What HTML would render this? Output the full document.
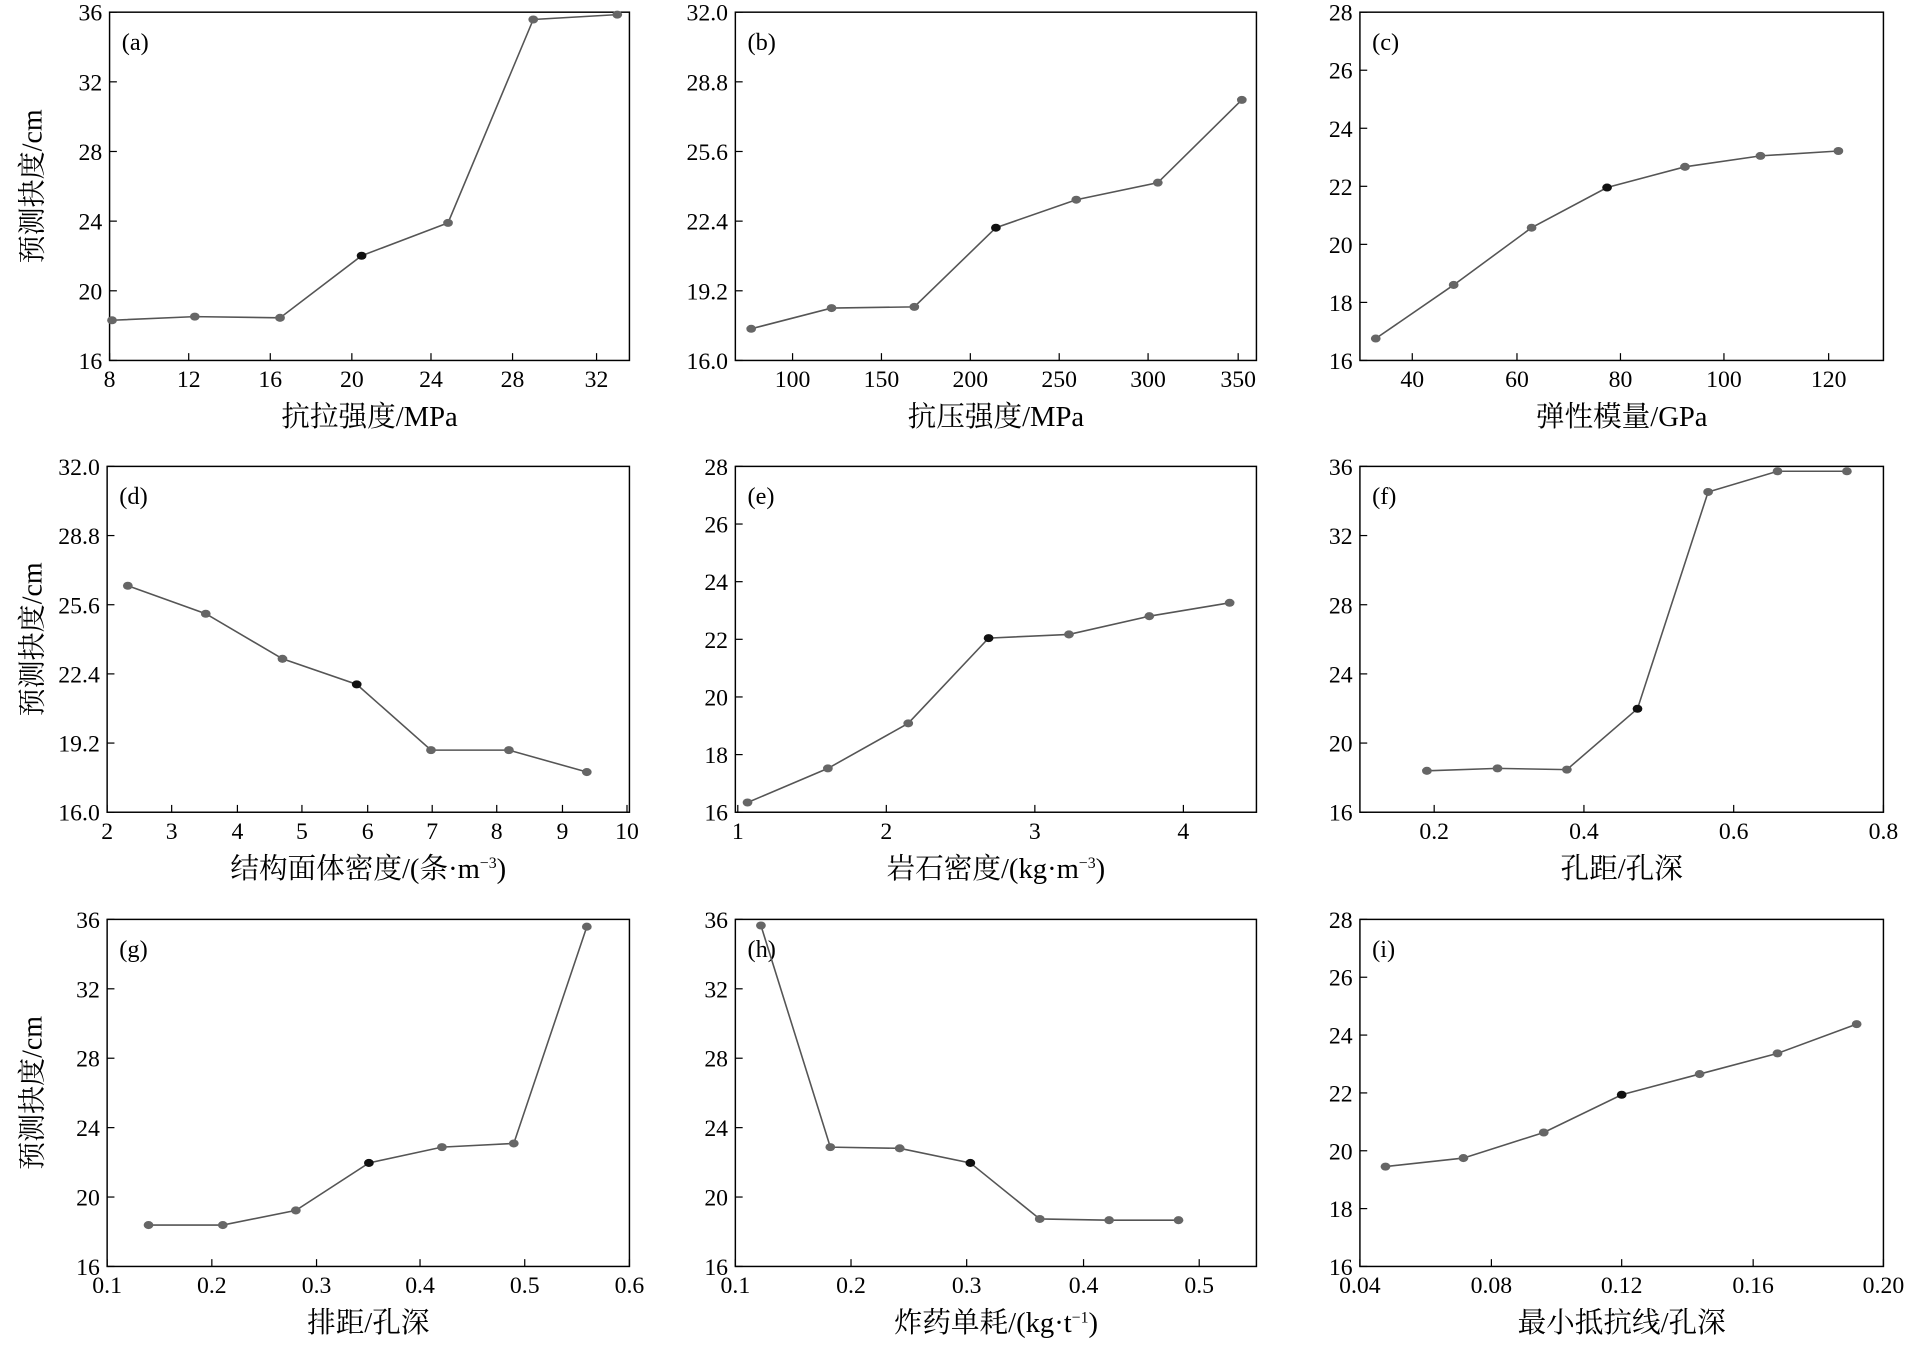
<!DOCTYPE html>
<html><head><meta charset="utf-8">
<style>html,body{margin:0;padding:0;background:#fff;}svg{display:block}</style>
</head><body>
<svg id="s" width="1909" height="1359" viewBox="0 0 1568 1116" preserveAspectRatio="none" xmlns="http://www.w3.org/2000/svg"></svg>
<script>
const F='"Liberation Serif","Noto Serif CJK SC","Noto Sans CJK SC",serif';
const panels=[
 {L:90,R:517,T:10,B:296,lab:'(a)',xl:'抗拉强度/MPa',xt:[[8,90],[12,155],[16,222],[20,289],[24,354],[28,421],[32,490]],yt:['16','20','24','28','32','36'],
  p:[[92,263],[160,260],[230,261],[297,210],[368,183],[438,16],[507,12]],yl:1},
 {L:604,R:1032,T:10,B:296,lab:'(b)',xl:'抗压强度/MPa',xt:[[100,651],[150,724],[200,797],[250,870],[300,943],[350,1017]],yt:['16.0','19.2','22.4','25.6','28.8','32.0'],
  p:[[617,270],[683,253],[751,252],[818,187],[884,164],[951,150],[1020,82]]},
 {L:1117,R:1547,T:10,B:296,lab:'(c)',xl:'弹性模量/GPa',xt:[[40,1160],[60,1246],[80,1331],[100,1416],[120,1502]],yt:['16','18','20','22','24','26','28'],
  p:[[1130,278],[1194,234],[1258,187],[1320,154],[1384,137],[1446,128],[1510,124]]},
 {L:88,R:517,T:383,B:667,lab:'(d)',xl:'结构面体密度/(条·m<tspan dy="-8" font-size="13">−3</tspan><tspan dy="8">)</tspan>',xt:[[2,88],[3,141],[4,195],[5,248],[6,302],[7,355],[8,408],[9,462],[10,515]],yt:['16.0','19.2','22.4','25.6','28.8','32.0'],
  p:[[105,481],[169,504],[232,541],[293,562],[354,616],[418,616],[482,634]],yl:1},
 {L:604,R:1032,T:383,B:667,lab:'(e)',xl:'岩石密度/(kg·m<tspan dy="-8" font-size="13">−3</tspan><tspan dy="8">)</tspan>',xt:[[1,606],[2,728],[3,850],[4,972]],yt:['16','18','20','22','24','26','28'],
  p:[[614,659],[680,631],[746,594],[812,524],[878,521],[944,506],[1010,495]]},
 {L:1117,R:1547,T:383,B:667,lab:'(f)',xl:'孔距/孔深',xt:[['0.2',1178],['0.4',1301],['0.6',1424],['0.8',1547]],yt:['16','20','24','28','32','36'],
  p:[[1172,633],[1230,631],[1287,632],[1345,582],[1403,404],[1460,387],[1517,387]]},
 {L:88,R:517,T:755,B:1040,lab:'(g)',xl:'排距/孔深',xt:[['0.1',88],['0.2',174],['0.3',260],['0.4',345],['0.5',431],['0.6',517]],yt:['16','20','24','28','32','36'],
  p:[[122,1006],[183,1006],[243,994],[303,955],[363,942],[422,939],[482,761]],yl:1},
 {L:604,R:1032,T:755,B:1040,lab:'(h)',xl:'炸药单耗/(kg·t<tspan dy="-8" font-size="13">−1</tspan><tspan dy="8">)</tspan>',xt:[['0.1',604],['0.2',699],['0.3',794],['0.4',890],['0.5',985]],yt:['16','20','24','28','32','36'],
  p:[[625,760],[682,942],[739,943],[797,955],[854,1001],[911,1002],[968,1002]]},
 {L:1117,R:1547,T:755,B:1040,lab:'(i)',xl:'最小抵抗线/孔深',xt:[['0.04',1117],['0.08',1225],['0.12',1332],['0.16',1440],['0.20',1547]],yt:['16','18','20','22','24','26','28'],
  p:[[1138,958],[1202,951],[1268,930],[1332,899],[1396,882],[1460,865],[1525,841]]}
];
let h='';
for(const P of panels){
 h+=`<rect x="${P.L}" y="${P.T}" width="${P.R-P.L}" height="${P.B-P.T}" fill="#fff" stroke="#000" stroke-width="1.2"/>`;
 for(const [v,x] of P.xt){h+=`<line x1="${x}" y1="${P.B}" x2="${x}" y2="${P.B-6}" stroke="#000"/>`;
  h+=`<text x="${x}" y="${P.B+22}" font-family='${F}' font-size="19.5" text-anchor="middle">${v}</text>`;}
 const n=P.yt.length;
 P.yt.forEach((v,i)=>{const y=P.B-(P.B-P.T)*i/(n-1);
  h+=`<line x1="${P.L}" y1="${y}" x2="${P.L+6}" y2="${y}" stroke="#000"/>`;
  h+=`<text x="${P.L-6}" y="${y+7}" font-family='${F}' font-size="19.5" text-anchor="end">${v}</text>`;});
 h+=`<text x="${P.L+10}" y="${P.T+31}" font-family='${F}' font-size="20">${P.lab}</text>`;
 h+=`<text x="${(P.L+P.R)/2}" y="${P.B+54}" font-family='${F}' font-size="23.5" text-anchor="middle">${P.xl}</text>`;
 h+=`<polyline points="${P.p.map(q=>q.join(',')).join(' ')}" fill="none" stroke="#555" stroke-width="1.3"/>`;
 P.p.forEach((q,i)=>{h+=`<ellipse cx="${q[0]}" cy="${q[1]}" rx="4" ry="3.3" fill="${i==3?'#111':'#666'}"/>`;});
 if(P.yl){const cy=(P.T+P.B)/2;h+=`<text x="0" y="0" transform="translate(34,${cy}) rotate(-90)" font-family='${F}' font-size="23" text-anchor="middle">预测抉度/cm</text>`;}
}
document.getElementById('s').innerHTML=h;
</script>
</body></html>
